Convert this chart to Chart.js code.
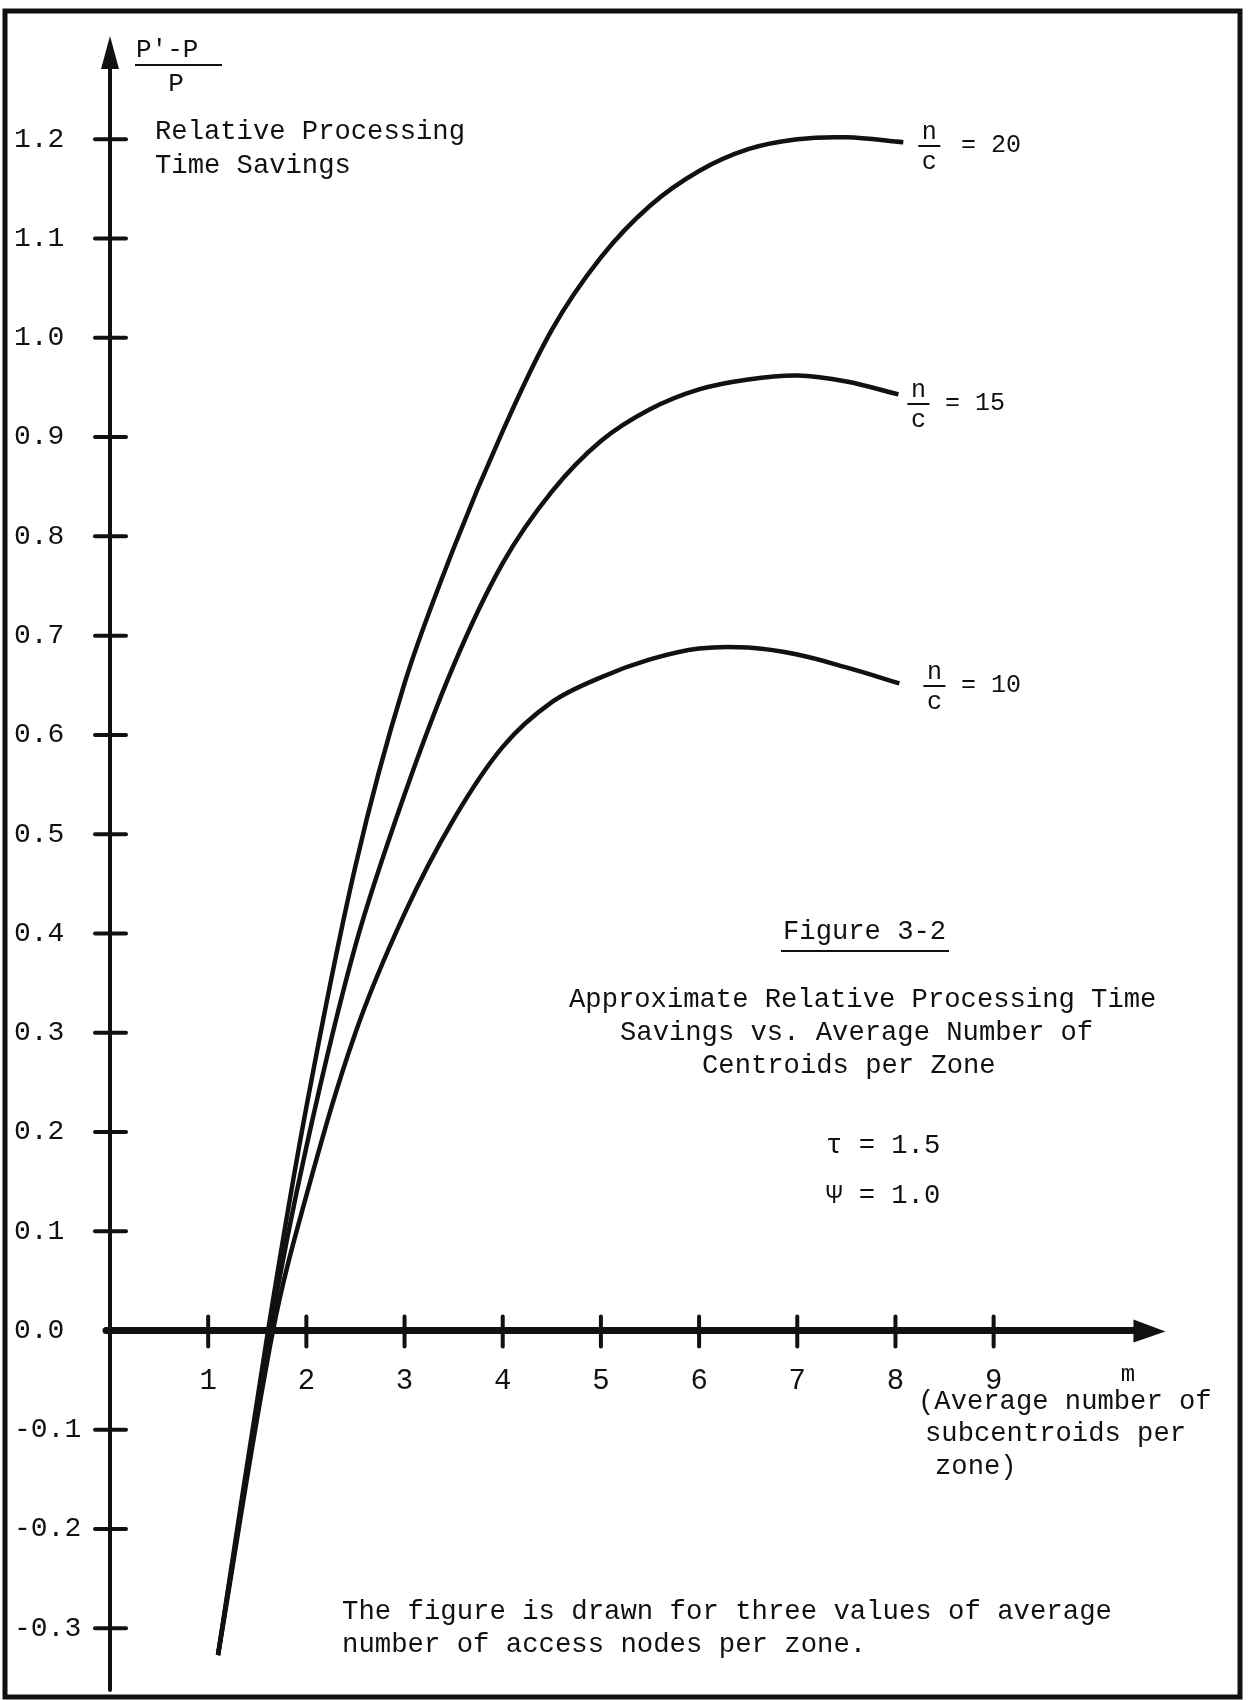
<!DOCTYPE html>
<html>
<head>
<meta charset="utf-8">
<script src="https://cdn.jsdelivr.net/npm/chart.js@4.4.1/dist/chart.umd.min.js"></script>
<style>
  body { margin: 0; background: #fff; }
  #wrap { width: 1248px; height: 1700px; }
</style>
</head>
<body>
<div id="wrap"><canvas id="myChart" width="1248" height="1700"></canvas></div>
<script>
// values: m (x) and relative savings (y) for each n/c
var m20 = [1.10, 1.61, 2.0, 2.5, 3.0, 3.5, 4.0, 4.5, 5.0, 5.5, 6.0, 6.5, 7.0, 7.5, 8.08];
var s20 = [-0.327, 0, 0.225, 0.468, 0.652, 0.788, 0.906, 1.008, 1.081, 1.133, 1.168, 1.190, 1.200, 1.202, 1.197];

var m15 = [1.10, 1.63, 2.0, 2.5, 3.0, 3.5, 4.0, 4.5, 5.0, 5.5, 6.0, 6.5, 7.0, 7.5, 8.03];
var s15 = [-0.327, 0, 0.185, 0.388, 0.540, 0.670, 0.773, 0.845, 0.896, 0.928, 0.948, 0.958, 0.962, 0.956, 0.943];

var m10 = [1.10, 1.66, 2.0, 2.5, 3.0, 3.5, 4.0, 4.5, 5.0, 5.5, 6.0, 6.5, 7.0, 7.5, 8.04];
var s10 = [-0.327, 0, 0.136, 0.300, 0.420, 0.515, 0.588, 0.633, 0.658, 0.676, 0.687, 0.688, 0.681, 0.668, 0.652];

var seriesNames = ['20', '15', '10'];
var xTicks = [1, 2, 3, 4, 5, 6, 7, 8, 9];
var yTicks = [-0.3, -0.2, -0.1, 0, 0.1, 0.2, 0.3, 0.4, 0.5, 0.6, 0.7, 0.8, 0.9, 1.0, 1.1, 1.2];

var FONT = '"Liberation Mono", "DejaVu Sans Mono", monospace';
var INK = '#111';

function pts(ms, ss) {
  return ms.map(function (m, i) { return {x: m, y: ss[i]}; });
}

function text(ctx, s, x, y, size, align) {
  ctx.font = size + 'px ' + FONT;
  ctx.textAlign = align || 'left';
  ctx.textBaseline = 'middle';
  ctx.fillText(s, x, y);
}

function line(ctx, x1, y1, x2, y2, w) {
  ctx.lineWidth = w;
  ctx.beginPath();
  ctx.moveTo(x1, y1);
  ctx.lineTo(x2, y2);
  ctx.stroke();
}

var paper = {
  id: 'paper',
  beforeDraw: function (chart) {
    var ctx = chart.ctx;
    ctx.save();
    ctx.fillStyle = '#fff';
    ctx.fillRect(0, 0, chart.width, chart.height);
    ctx.strokeStyle = INK;
    ctx.lineWidth = 5;
    ctx.strokeRect(5, 11, 1235, 1686);
    ctx.restore();
  },
  beforeDatasetsDraw: function (chart) {
    var ctx = chart.ctx, x = chart.scales.x, y = chart.scales.y;
    var x0 = x.getPixelForValue(0), y0 = y.getPixelForValue(0);
    ctx.save();
    ctx.strokeStyle = INK;
    ctx.fillStyle = INK;
    ctx.lineCap = 'round';

    // y axis with arrow
    var yTop = y.getPixelForValue(1.304);
    line(ctx, x0, y.getPixelForValue(-0.362), x0, yTop + 20, 4);
    ctx.beginPath();
    ctx.moveTo(x0, yTop);
    ctx.lineTo(x0 - 9, yTop + 33);
    ctx.lineTo(x0 + 9, yTop + 33);
    ctx.closePath();
    ctx.fill();
    yTicks.forEach(function (v) {
      var py = y.getPixelForValue(v);
      if (v !== 0) line(ctx, x0 - 15, py, x0 + 16, py, 4);
    });

    // x axis with arrow
    var xEnd = x.getPixelForValue(10.75);
    line(ctx, x0 - 4, y0, xEnd - 20, y0, 7);
    ctx.beginPath();
    ctx.moveTo(xEnd, y0 + 1);
    ctx.lineTo(xEnd - 32, y0 - 11);
    ctx.lineTo(xEnd - 32, y0 + 12);
    ctx.closePath();
    ctx.fill();
    xTicks.forEach(function (v) {
      var px = x.getPixelForValue(v);
      line(ctx, px, y0 - 14, px, y0 + 16, 4);
    });
    ctx.restore();
  },
  afterDraw: function (chart) {
    var ctx = chart.ctx;
    ctx.save();
    ctx.fillStyle = INK;
    ctx.strokeStyle = INK;

    // y axis title as a fraction
    text(ctx, "P'-P", 136, 50, 26);
    line(ctx, 135, 65, 222, 65, 2);
    text(ctx, 'P', 176, 84, 26, 'center');
    text(ctx, 'Relative Processing', 155, 132, 27.2);
    text(ctx, 'Time Savings', 155, 166, 27.2);

    // n/c labels at the right end of each curve
    var offs = [{dx: 26, bar: 146, eqx: 968}, {dx: 20, bar: 404, eqx: 952}, {dx: 35, bar: 686, eqx: 968}];
    chart.data.datasets.forEach(function (ds, i) {
      var meta = chart.getDatasetMeta(i);
      var last = meta.data[meta.data.length - 1];
      var cx = last.x + offs[i].dx, by = offs[i].bar;
      text(ctx, 'n', cx, by - 14, 25, 'center');
      line(ctx, cx - 11, by, cx + 11, by, 2);
      text(ctx, 'c', cx, by + 16, 25, 'center');
      text(ctx, '= ' + seriesNames[i], offs[i].eqx - 7, by - 1, 25);
    });

    // caption block
    text(ctx, 'Figure 3-2', 783, 932, 27.2);
    line(ctx, 781, 951, 949, 951, 2);
    text(ctx, 'Approximate Relative Processing Time', 569, 1000, 27.2);
    text(ctx, 'Savings vs. Average Number of', 620, 1033, 27.2);
    text(ctx, 'Centroids per Zone', 702, 1066, 27.2);
    text(ctx, '\u03c4 = 1.5', 826, 1146, 27.2);
    text(ctx, '\u03a8 = 1.0', 826, 1196, 27.2);

    // x axis title
    text(ctx, 'm', 1128, 1375, 24, 'center');
    text(ctx, '(Average number of', 918, 1402, 27.2);
    text(ctx, 'subcentroids per', 925, 1434, 27.2);
    text(ctx, 'zone)', 935, 1467, 27.2);

    // note
    text(ctx, 'The figure is drawn for three values of average', 342, 1612, 27.3);
    text(ctx, 'number of access nodes per zone.', 342, 1645, 27.3);
    ctx.restore();
  }
};

var curve = {
  borderColor: INK,
  borderWidth: 4.5,
  pointRadius: 0,
  fill: false,
  tension: 0.35
};

const ctx = document.getElementById('myChart').getContext('2d');
const myChart = new Chart(ctx, {
  type: 'line',
  data: {
    datasets: [
      Object.assign({label: 'n/c = ' + seriesNames[0], data: pts(m20, s20)}, curve),
      Object.assign({label: 'n/c = ' + seriesNames[1], data: pts(m15, s15)}, curve),
      Object.assign({label: 'n/c = ' + seriesNames[2], data: pts(m10, s10)}, curve)
    ]
  },
  plugins: [paper],
  options: {
    responsive: false,
    animation: false,
    layout: {padding: {left: 14, right: 58, top: 40, bottom: 22}},
    plugins: {legend: {display: false}, tooltip: {enabled: false}},
    scales: {
      x: {
        type: 'linear',
        position: {y: 0},
        min: 0,
        max: 11,
        grid: {display: false, drawTicks: false},
        border: {display: false},
        afterBuildTicks: function (axis) { axis.ticks = xTicks.map(function (v) { return {value: v}; }); },
        ticks: {
          color: INK,
          padding: 33,
          autoSkip: false,
          maxRotation: 0,
          font: {family: FONT, size: 29},
          callback: function (v) { return String(v); }
        }
      },
      y: {
        type: 'linear',
        position: 'left',
        min: -0.35,
        max: 1.30,
        grid: {display: false, drawTicks: false},
        border: {display: false},
        afterBuildTicks: function (axis) { axis.ticks = yTicks.map(function (v) { return {value: v}; }); },
        afterFit: function (axis) { axis.width = 96; },
        ticks: {
          color: INK,
          padding: 0,
          crossAlign: 'far',
          autoSkip: false,
          font: {family: FONT, size: 28},
          callback: function (v) { return v.toFixed(1); }
        }
      }
    }
  }
});
</script>
</body>
</html>
